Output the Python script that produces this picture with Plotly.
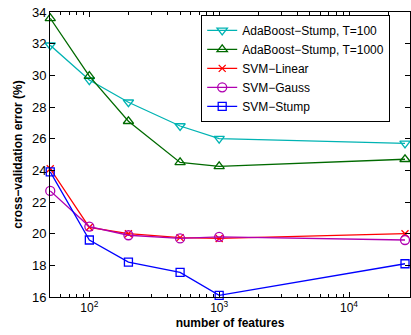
import plotly.graph_objects as go
import numpy as np

features = [50, 100, 200, 500, 1000, 27000]
ada100 = [31.9, 29.7, 28.3, 26.8, 26.0, 25.7]
ada1000 = [33.6, 29.95, 27.1, 24.5, 24.25, 24.7]
svm_linear = [24.1, 20.4, 20.0, 19.75, 19.7, 20.0]
svm_gauss = [22.7, 20.45, 19.9, 19.7, 19.8, 19.6]
svm_stump = [23.9, 19.6, 18.2, 17.55, 16.1, 18.1]

x_tickvals = [100, 1000, 10000]
x_ticktext = ["10<sup>2</sup>", "10<sup>3</sup>", "10<sup>4</sup>"]

series = [
    ("AdaBoost\u2212Stump, T=100", ada100, "#00b3b3", "triangle-down-open", 9),
    ("AdaBoost\u2212Stump, T=1000", ada1000, "#006a00", "triangle-up-open", 9),
    ("SVM\u2212Linear", svm_linear, "#ff0000", "x-thin-open", 7),
    ("SVM\u2212Gauss", svm_gauss, "#b000b0", "circle-open", 9),
    ("SVM\u2212Stump", svm_stump, "#0000ff", "square-open", 8),
]

fig = go.Figure()
for name, ys, color, sym, size in series:
    fig.add_trace(go.Scatter(
        x=features, y=ys, name=name, mode="lines+markers",
        line=dict(color=color, width=1.3),
        marker=dict(symbol=sym, size=size, color=color,
                    line=dict(color=color, width=1.3)),
        cliponaxis=False,
    ))

minor_vals = [m * 10 ** e for e in range(1, 5) for m in range(2, 10)]

fig.update_layout(
    width=411, height=335,
    margin=dict(l=50, r=1, t=12, b=38),
    paper_bgcolor="white", plot_bgcolor="white",
    font=dict(family="Liberation Sans, Arial, sans-serif", size=12, color="black"),
    legend=dict(x=0.42, y=0.99, xanchor="left", yanchor="top",
                bordercolor="black", borderwidth=1, bgcolor="white",
                font=dict(size=12), tracegroupgap=0),
    showlegend=True,
)
fig.update_xaxes(
    type="log", range=[np.log10(50) - 0.002, np.log10(29500)],
    tickvals=x_tickvals, ticktext=x_ticktext, automargin=False,
    showline=True, linecolor="black", linewidth=1, mirror="ticks",
    ticks="inside", ticklen=5, tickcolor="black",
    minor=dict(ticks="inside", ticklen=3, tickcolor="black", tickvals=minor_vals),
    showgrid=False, zeroline=False,
    title=dict(text="<b>number of features</b>", standoff=4, font=dict(size=12)),
    tickfont=dict(size=12),
)
fig.update_yaxes(
    range=[16, 34], dtick=2, automargin=False,
    showline=True, linecolor="black", linewidth=1, mirror="ticks",
    ticks="inside", ticklen=5, tickcolor="black",
    showgrid=False, zeroline=False,
    title=dict(text="<b>cross\u2212validation error (%)</b>", standoff=6, font=dict(size=12)),
    tickfont=dict(size=13),
)

fig.write_html("out.html", config={"displayModeBar": False},
               post_script="document.body.style.margin='0';")
